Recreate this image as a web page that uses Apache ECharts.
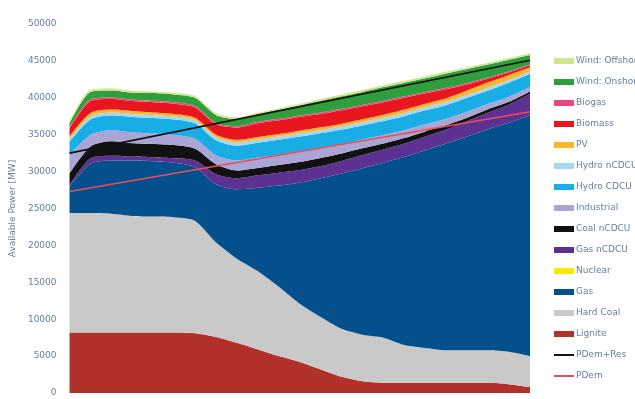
<!DOCTYPE html>
<html>
<head>
<meta charset="utf-8">
<script src="https://cdn.jsdelivr.net/npm/echarts@6/dist/echarts.min.js"></script>
<style>
  html, body { margin: 0; padding: 0; background: #ffffff; }
  #chart { width: 635px; height: 399px; }
</style>
</head>
<body>
<div id="chart"></div>
<script>
// Time steps along the horizontal axis (labels are not shown)
const steps = ['1','2','3','4','5','6','7','8','9','10','11','12','13','14','15','16','17','18','19','20','21','22','23'];

// Available power per technology [MW], stacked from the bottom up
const lignite      = [8200, 8200, 8200, 8200, 8200, 8200, 8100, 7600, 6800, 5900, 5000, 4200, 3200, 2200, 1600, 1400, 1400, 1400, 1400, 1400, 1400, 1200, 800];
const hardCoal     = [16200, 16200, 16100, 15800, 15700, 15600, 15200, 12800, 11400, 10600, 9400, 7900, 7100, 6500, 6300, 6100, 5100, 4700, 4400, 4400, 4400, 4400, 4200];
const gas          = [3550, 6650, 7200, 7500, 7500, 7400, 7300, 7900, 9400, 11300, 13700, 16400, 18800, 21050, 22550, 23700, 25500, 26800, 28000, 28950, 29950, 31050, 32650];
const nuclear      = [0, 0, 0, 0, 0, 0, 0, 0, 0, 0, 0, 0, 0, 0, 0, 0, 0, 0, 0, 0, 0, 0, 0];
const gasNCDCU     = [200, 750, 650, 550, 550, 600, 900, 1350, 1500, 1700, 1750, 1700, 1650, 1700, 1800, 1800, 1800, 1850, 1900, 2100, 2250, 2450, 2900];
const coalNCDCU    = [1600, 1600, 1950, 1800, 1800, 1800, 1600, 1350, 1050, 1000, 1050, 1100, 1100, 1000, 900, 800, 750, 700, 600, 450, 450, 350, 300];
const industrial   = [2500, 1600, 1500, 1450, 1400, 1350, 1350, 1200, 1350, 1400, 1350, 1350, 1300, 1250, 1200, 1150, 1050, 950, 850, 850, 750, 700, 600];
const hydroCDCU    = [1800, 2050, 2000, 2100, 2100, 2100, 2100, 2050, 2000, 2000, 2050, 2100, 2050, 2000, 1900, 1900, 1900, 1900, 1850, 1850, 1800, 1900, 1800];
const hydroNCDCU   = [350, 450, 400, 400, 400, 400, 400, 400, 450, 450, 450, 450, 450, 450, 450, 450, 450, 450, 450, 400, 400, 350, 300];
const pv           = [400, 450, 400, 400, 350, 350, 350, 350, 350, 350, 350, 350, 350, 350, 400, 400, 450, 450, 500, 600, 700, 700, 600];
const biomass      = [1050, 1600, 1450, 1350, 1400, 1400, 1400, 1400, 1650, 1850, 1850, 1850, 1800, 1800, 1750, 1700, 1600, 1400, 1200, 800, 500, 350, 250];
const biogas       = [150, 250, 200, 200, 200, 200, 200, 200, 200, 200, 200, 200, 200, 200, 200, 200, 200, 200, 200, 200, 150, 150, 100];
const windOnshore  = [550, 1000, 950, 950, 1050, 1050, 1100, 1050, 1000, 1050, 1250, 1400, 1600, 1700, 1750, 1850, 1850, 1850, 1950, 1900, 1750, 1550, 1300];
const windOffshore = [200, 300, 250, 250, 200, 250, 250, 250, 200, 200, 200, 200, 250, 250, 250, 250, 250, 250, 250, 250, 250, 250, 250];

// Demand lines [MW]: first and last step
const pDemRes = [32500, 45100];
const pDem    = [27300, 38100];

// Y axis ticks
const yTicks = { min: 0, max: 50000, step: 5000 };

const layers = [
  { name: 'Lignite',        data: lignite,      color: '#b3312b' },
  { name: 'Hard Coal',      data: hardCoal,     color: '#c9c9ca' },
  { name: 'Gas',            data: gas,          color: '#03508d' },
  { name: 'Nuclear',        data: nuclear,      color: '#ffe500' },
  { name: 'Gas nCDCU',      data: gasNCDCU,     color: '#5c3192' },
  { name: 'Coal nCDCU',     data: coalNCDCU,    color: '#111111' },
  { name: 'Industrial',     data: industrial,   color: '#aaa5d4' },
  { name: 'Hydro CDCU',     data: hydroCDCU,    color: '#19ade5' },
  { name: 'Hydro nCDCU',    data: hydroNCDCU,   color: '#a7d6f1' },
  { name: 'PV',             data: pv,           color: '#fbb62c' },
  { name: 'Biomass',        data: biomass,      color: '#e8161e' },
  { name: 'Biogas',         data: biogas,       color: '#e9487c' },
  { name: 'Wind: Onshore',  data: windOnshore,  color: '#2f9f3d' },
  { name: 'Wind: Offshore', data: windOffshore, color: '#d3e58c' }
];

const lines = [
  { name: 'PDem+Res', ends: pDemRes, color: '#111111', width: 1.6 },
  { name: 'PDem',     ends: pDem,    color: '#ec4d5c', width: 1.6 }
];

const last = steps.length - 1;

const series = layers.map(l => ({
  name: l.name,
  type: 'line',
  stack: 'supply',
  data: l.data,
  symbol: 'none',
  smooth: 0.25,
  lineStyle: { width: 0 },
  areaStyle: { color: l.color, opacity: 1 },
  itemStyle: { color: l.color },
  emphasis: { disabled: true }
})).concat(lines.map(l => ({
  name: l.name,
  type: 'line',
  data: steps.map((s, i) => i === 0 ? l.ends[0] : (i === last ? l.ends[1] : null)),
  connectNulls: true,
  symbol: 'none',
  lineStyle: { color: l.color, width: l.width },
  itemStyle: { color: l.color },
  z: 5
})));

// Area entries use filled swatches; demand entries use a plain stroke
const legendData = layers.slice().reverse().map(l => ({ name: l.name, icon: 'rect' }))
  .concat(lines.map(l => ({
    name: l.name,
    icon: 'inherit',
    itemStyle: { opacity: 0 },
    lineStyle: { color: l.color, width: 2 }
  })));

const labelColor = '#667d9f';
const labelFont = 'DejaVu Sans';

const chart = echarts.init(document.getElementById('chart'), null, { renderer: 'canvas' });
chart.setOption({
  animation: false,
  backgroundColor: '#ffffff',
  grid: { left: 68, right: 105, top: 24, bottom: 6 },
  xAxis: {
    type: 'category',
    data: steps,
    boundaryGap: false,
    axisLine: { show: false },
    axisTick: { show: false },
    axisLabel: { show: false },
    splitLine: { show: false }
  },
  yAxis: {
    type: 'value',
    min: yTicks.min,
    max: yTicks.max,
    interval: yTicks.step,
    name: 'Available Power [MW]',
    nameLocation: 'middle',
    nameGap: 52,
    nameTextStyle: { color: labelColor, fontSize: 9, fontFamily: labelFont },
    axisLine: { show: false },
    axisTick: { show: false },
    splitLine: { show: false },
    axisLabel: {
      color: labelColor, fontSize: 9, margin: 13, fontFamily: labelFont,
      formatter: v => String(v)
    }
  },
  legend: {
    orient: 'vertical',
    left: 553,
    top: 55,
    padding: 0,
    itemWidth: 20,
    itemHeight: 6,
    itemGap: 9,
    data: legendData,
    selectedMode: false,
    textStyle: { color: labelColor, fontSize: 9, lineHeight: 12, padding: [0, 0, 0, -3], fontFamily: labelFont }
  },
  series: series
});
</script>
</body>
</html>
